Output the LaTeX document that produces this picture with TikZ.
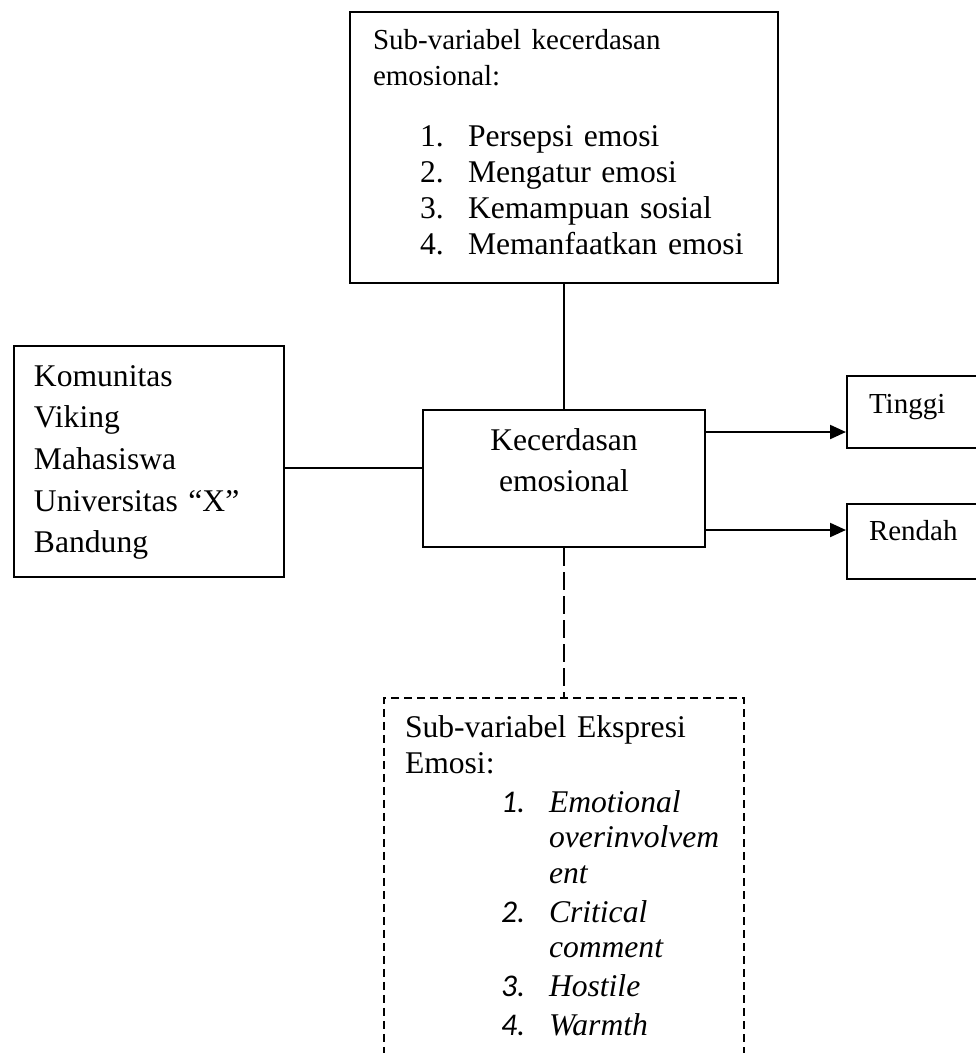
\documentclass[tikz,border=0pt]{standalone}
\usepackage{fontspec}
\setmainfont{Liberation Serif}
\newfontfamily\numfont{Carlito}
\usetikzlibrary{arrows.meta,calc,positioning}
\newcommand\bodysize{\fontsize{31.6pt}{41.7pt}\selectfont}
\newcommand\headsize{\fontsize{29pt}{35pt}\selectfont}
\newcommand\listsize{\fontsize{31.6pt}{36pt}\selectfont}
\newcommand\itemsize{\fontsize{31.6pt}{35.5pt}\selectfont}
\newcommand\numitem[2]{\hspace*{#1}\makebox[48pt][l]{#2}}
\tikzstyle{box}=[
  draw=black,
  line width=2pt,
  rectangle,
  inner ysep=0pt,
  align=left,
  anchor=north west,
]
\tikzstyle{dashbox}=[
  line width=1.6pt,
  dash pattern=on 8pt off 5pt,
]
\tikzstyle{link}=[
  draw=black,
  line width=2pt,
]
\tikzstyle{dashlink}=[
  draw=black,
  line width=1.8pt,
  dash pattern=on 18pt off 6pt,
]
\tikzstyle{arrow}=[
  draw=black,
  line width=2.2pt,
]
\tikzset{
  >={Triangle[length=16pt,width=14pt]},
}
\begin{document}
\begin{tikzpicture}[x=1pt,y=-1pt]
  \path [use as bounding box, fill=white] (0,0) rectangle (976,1053);
  %%
  \node (subkec) [box, font=\listsize, text width=382pt, inner xsep=23pt,
    text height=37pt, text depth=234pt] at (349,11)
    {{\headsize Sub-variabel kecerdasan}\\
     {\headsize emosional:}\\[25pt]
     \numitem{47pt}{1.}Persepsi emosi\\
     \numitem{47pt}{2.}Mengatur emosi\\
     \numitem{47pt}{3.}Kemampuan sosial\\
     \numitem{47pt}{4.}Memanfaatkan emosi};
  \node (komunitas) [box, font=\bodysize, text width=230pt, inner xsep=20pt,
    text height=40pt, text depth=191pt] at (13,345)
    {Komunitas\\ Viking\\ Mahasiswa\\ Universitas ``X''\\ Bandung};
  \node (kecerdasan) [box, font=\bodysize, align=center, text width=262pt,
    inner xsep=10pt, text height=40pt, text depth=97pt,
    below=125pt of subkec.south] {Kecerdasan\\ emosional};
  %%
  \node (tinggi) [box, font=\headsize, text width=116pt, inner xsep=22pt,
    text height=37pt, text depth=35pt] at (846,375) {Tinggi};
  \node (rendah) [box, font=\headsize, text width=116pt, inner xsep=22pt,
    text height=36pt, text depth=39pt, below=54pt of tinggi.south west,
    anchor=north west] {Rendah};
  %%
  \node (subeks) [box, dashbox, font=\itemsize, text width=318pt,
    inner xsep=21pt, text height=40pt, text depth=347pt,
    below=149pt of kecerdasan.south]
    {Sub-variabel Ekspresi\\
     Emosi:\\[3.5pt]
     \numitem{96pt}{\numfont\itshape 1.}\textit{Emotional}\\
     \hspace*{144pt}\textit{overinvolvem}\\
     \hspace*{144pt}\textit{ent}\\[3.5pt]
     \numitem{96pt}{\numfont\itshape 2.}\textit{Critical}\\
     \hspace*{144pt}\textit{comment}\\[3.5pt]
     \numitem{96pt}{\numfont\itshape 3.}\textit{Hostile}\\[3.5pt]
     \numitem{96pt}{\numfont\itshape 4.}\textit{Warmth}};
  %%
  \coordinate (mid) at ($(komunitas.east)+(0,6.5)$);
  \coordinate (hi) at ($(kecerdasan.north east)+(0,23)$);
  \coordinate (lo) at ($(kecerdasan.south east)+(0,-18)$);
  \draw [link] (subkec.south) -- (subkec.south |- kecerdasan.north);
  \draw [link] (mid) -- (mid -| kecerdasan.west);
  \draw [->, arrow] (hi) -- (hi -| tinggi.west);
  \draw [->, arrow] (lo) -- (lo -| rendah.west);
  \draw [dashlink] (kecerdasan.south) -- (kecerdasan.south |- subeks.north);
\end{tikzpicture}
\end{document}
